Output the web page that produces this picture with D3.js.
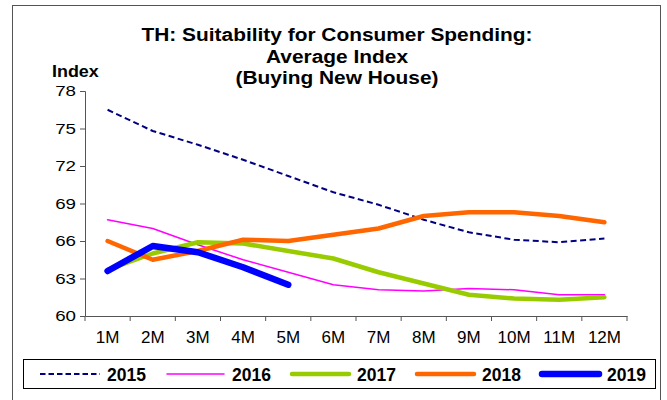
<!DOCTYPE html>
<html><head><meta charset="utf-8">
<script src="https://cdn.jsdelivr.net/npm/d3@7"></script>
<style>body{margin:0;background:#fff}svg{display:block;font-family:"Liberation Sans",Arial,sans-serif}</style>
</head><body><svg id="c" width="667" height="400"></svg>
<script>
const categories = ["1M","2M","3M","4M","5M","6M","7M","8M","9M","10M","11M","12M"];
const yTicks = [60,63,66,69,72,75,78];
const s2015 = [76.5,74.8,73.7,72.5,71.2,69.9,68.9,67.7,66.7,66.1,65.9,66.2];
const s2016 = [67.7,67.0,65.7,64.5,63.5,62.5,62.1,62.0,62.2,62.1,61.7,61.7];
const s2017 = [63.7,65.0,65.9,65.8,65.2,64.6,63.5,62.6,61.7,61.4,61.3,61.5];
const s2018 = [66.0,64.5,65.2,66.1,66.0,66.5,67.0,68.0,68.3,68.3,68.0,67.5];
const s2019 = [63.6,65.6,65.1,63.9,62.5];
const seriesNames = ["2015","2016","2017","2018","2019"];

const series = [
  {name:"2015", values:s2015, color:"#000080", width:2, dash:"6,3.5"},
  {name:"2016", values:s2016, color:"#FF00FF", width:1.5, dash:null},
  {name:"2017", values:s2017, color:"#99CC00", width:4.5, dash:null},
  {name:"2018", values:s2018, color:"#FF6600", width:4.5, dash:null},
  {name:"2019", values:s2019, color:"#0000FF", width:6.5, dash:null}
];

const svg = d3.select("#c");
svg.append("rect").attr("x",12.5).attr("y",5.5).attr("width",648).attr("height",400)
  .attr("fill","#fff").attr("stroke","#555").attr("stroke-width",1);

const x = d3.scaleBand().domain(categories).range([85,627]);
const y = d3.scaleLinear().domain([60,78]).range([316,91]);

const title = ["TH: Suitability for Consumer Spending:","Average Index","(Buying New House)"];
svg.append("g").selectAll("text").data(title).join("text")
  .attr("transform",(d,i)=>`translate(337,${41+i*21.6}) scale(1.13,1)`)
  .attr("text-anchor","middle")
  .attr("font-weight","bold").attr("font-size","18.5px").text(d=>d);

svg.append("text").attr("transform","translate(52,76.5) scale(1.12,1)").attr("font-weight","bold")
  .attr("font-size","16px").text("Index");

const yAxis = d3.axisLeft(y).tickValues(yTicks).tickSize(5).tickPadding(8);
const gy = svg.append("g").attr("transform","translate(85,0)").call(yAxis);
gy.selectAll("text").attr("font-size","15px").attr("font-family","Liberation Sans, Arial, sans-serif")
  .attr("fill","#000").attr("x",-9/1.25).attr("transform","scale(1.25,1)");
gy.selectAll("line,path").attr("stroke","#555");

const xAxis = d3.axisBottom(x).tickSize(0).tickPadding(15);
const gx = svg.append("g").attr("transform","translate(0,316)").call(xAxis);
gx.selectAll("text").attr("font-size","17px").attr("font-family","Liberation Sans, Arial, sans-serif").attr("fill","#000");
gx.select("path").attr("stroke","#555");
const bounds = categories.map(c=>x(c)).concat([x.range()[1]]);
gx.selectAll("line.b").data(bounds).join("line").attr("class","b")
  .attr("x1",d=>d).attr("x2",d=>d).attr("y1",0).attr("y2",5).attr("stroke","#555");

const line = d3.line().x((d,i)=>x(categories[i])+x.bandwidth()/2).y(d=>y(d));
svg.append("g").selectAll("path").data(series).join("path")
  .attr("d",d=>line(d.values)).attr("fill","none")
  .attr("stroke",d=>d.color).attr("stroke-width",d=>d.width)
  .attr("stroke-dasharray",d=>d.dash).attr("stroke-linecap",d=>d.dash?"butt":"round")
  .attr("stroke-linejoin","round");

svg.append("rect").attr("x",23.5).attr("y",359.5).attr("width",632).attr("height",29)
  .attr("fill","#fff").attr("stroke","#000");
const lg = svg.append("g").selectAll("g").data(series).join("g")
  .attr("transform",(d,i)=>`translate(${40+i*125},374)`);
lg.append("line").attr("x1",d=>d.dash?0:2).attr("x2",d=>d.dash?60:59).attr("y1",0).attr("y2",0)
  .attr("stroke",d=>d.color).attr("stroke-width",d=>d.width)
  .attr("stroke-dasharray",d=>d.dash?"5.5,3":null).attr("stroke-linecap",d=>d.dash?"butt":"round");
lg.append("text").attr("x",67).attr("y",7).attr("font-weight","bold")
  .attr("font-size","17.5px").text(d=>d.name);
</script></body></html>
